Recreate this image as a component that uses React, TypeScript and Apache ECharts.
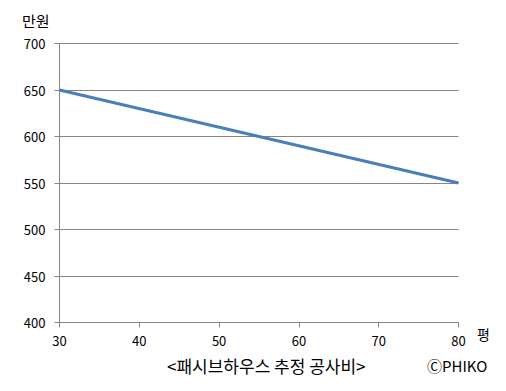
import React, { useEffect, useRef } from "react";
import * as echarts from "echarts";

const xValues = [30, 80];
const yValues = [650, 550];
const yUnit = "만원";
const xUnit = "평";
const caption = "<패시브하우스 추정 공사비>";
const credit = "ⒸPHIKO";

export default function App() {
  const ref = useRef<HTMLDivElement>(null);
  useEffect(() => {
    const chart = echarts.init(ref.current!, null, { renderer: "svg" });
    const font = "'Noto Sans CJK KR', 'Noto Sans', sans-serif";
    chart.setOption({
      animation: false,
      backgroundColor: "#ffffff",
      grid: { left: 59.5, top: 43.5, right: 47.5, bottom: 68.5, containLabel: false },
      xAxis: {
        type: "value",
        min: 30,
        max: 80,
        interval: 10,
        axisLine: { show: true, lineStyle: { color: "#868686", width: 1 } },
        axisTick: { show: true, length: 5, lineStyle: { color: "#868686" } },
        axisLabel: { color: "#000", fontSize: 13, fontFamily: font, margin: 11 },
        splitLine: { show: false },
      },
      yAxis: {
        type: "value",
        min: 400,
        max: 700,
        interval: 50,
        axisLine: { show: true, lineStyle: { color: "#868686", width: 1 } },
        axisTick: { show: true, length: 5, lineStyle: { color: "#868686" } },
        axisLabel: { color: "#000", fontSize: 13, fontFamily: font, margin: 14 },
        splitLine: { show: true, lineStyle: { color: "#868686", width: 1 } },
      },
      series: [
        {
          type: "line",
          data: xValues.map((x, i) => [x, yValues[i]]),
          symbol: "none",
          lineStyle: { color: "#4a7ebb", width: 3 },
        },
      ],
      graphic: [
        {
          type: "text",
          left: 22,
          top: 13,
          style: { text: yUnit, fontSize: 15, fontFamily: font, fill: "#000" },
        },
        {
          type: "text",
          left: 477,
          top: 327,
          style: { text: xUnit, fontSize: 14, fontFamily: font, fill: "#000" },
        },
        {
          type: "text",
          left: 167,
          top: 357,
          style: { text: caption, fontSize: 17, fontFamily: font, fill: "#000" },
        },
        {
          type: "text",
          left: 427,
          top: 358,
          style: { text: credit, fontSize: 15, fontFamily: font, fill: "#000" },
        },
      ],
    });
    return () => chart.dispose();
  }, []);
  return (
    <div
      ref={ref}
      style={{ position: "fixed", left: 0, top: 0, width: 506, height: 391 }}
    />
  );
}
